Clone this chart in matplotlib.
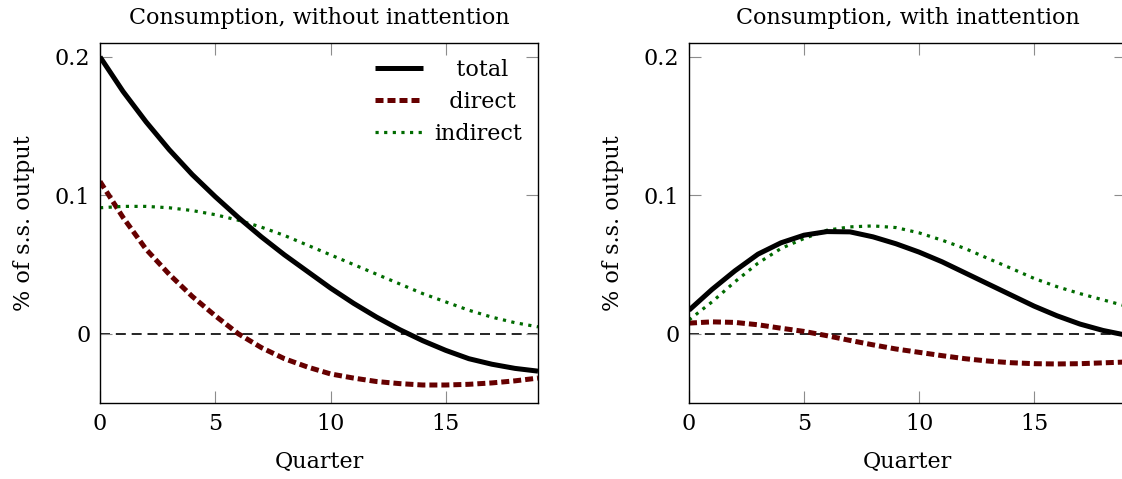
import matplotlib
matplotlib.use("Agg")
import matplotlib.pyplot as plt

plt.rcParams['font.family'] = ['DejaVu Serif']
plt.rcParams['mathtext.fontset'] = 'dejavuserif'

quarters = list(range(20))

# Without inattention
total_no = [0.200, 0.175, 0.153, 0.133, 0.115, 0.099, 0.084, 0.070, 0.057, 0.045,
            0.033, 0.022, 0.012, 0.003, -0.005, -0.012, -0.018, -0.022, -0.025, -0.027]
direct_no = [0.110, 0.084, 0.061, 0.043, 0.027, 0.013, 0.000, -0.010, -0.018, -0.024,
             -0.029, -0.032, -0.0345, -0.036, -0.037, -0.037, -0.0365, -0.0355, -0.034, -0.032]
indirect_no = [0.091, 0.092, 0.092, 0.091, 0.089, 0.086, 0.082, 0.077, 0.071, 0.064,
               0.057, 0.050, 0.043, 0.036, 0.029, 0.023, 0.017, 0.012, 0.008, 0.005]

# With inattention
total_in = [0.017, 0.032, 0.0455, 0.0575, 0.0657, 0.0712, 0.0738, 0.0736, 0.070, 0.065,
            0.059, 0.052, 0.044, 0.036, 0.028, 0.020, 0.013, 0.007, 0.0024, -0.001]
direct_in = [0.0077, 0.0086, 0.0082, 0.0065, 0.004, 0.0017, -0.0014, -0.0048, -0.008, -0.011,
             -0.0134, -0.0158, -0.018, -0.0197, -0.0209, -0.0216, -0.0218, -0.0216, -0.021, -0.0204]
indirect_in = [0.010, 0.023, 0.0376, 0.051, 0.0616, 0.0688, 0.0748, 0.0772, 0.0779, 0.0767,
               0.0729, 0.0676, 0.0616, 0.0544, 0.0473, 0.040, 0.034, 0.029, 0.0245, 0.020]

titles = ["Consumption, without inattention", "Consumption, with inattention"]
xticks = [0, 5, 10, 15]
yticks = [0, 0.1, 0.2]
yticklabels = ["0", "0.1", "0.2"]
labels = ["total", "direct", "indirect"]

W, H = 1122, 479
fig = plt.figure(figsize=(W / 100, H / 100), dpi=100)

def add_axes(left_px, right_px, top_px, bottom_px):
    return fig.add_axes([left_px / W, 1 - bottom_px / H,
                         (right_px - left_px) / W, (bottom_px - top_px) / H])

ax1 = add_axes(100, 538, 43, 403)
ax2 = add_axes(689, 1126, 43, 403)

red = '#660000'
green = '#006b00'

fs = 16
handles = None
for ax, tot, dr, ind, title in [(ax1, total_no, direct_no, indirect_no, titles[0]),
                                 (ax2, total_in, direct_in, indirect_in, titles[1])]:
    ax.axhline(0, color='black', lw=1.2, ls=(0, (6, 3.5)), zorder=1)
    h1, = ax.plot(quarters, tot, color='black', lw=3.6, solid_capstyle='butt', zorder=3)
    h2, = ax.plot(quarters, dr, color=red, lw=3.6, ls=(0, (1.6, 0.8)), zorder=2)
    h3, = ax.plot(quarters, ind, color=green, lw=2.3, ls=(0, (1, 1.7)), zorder=2)
    if handles is None:
        handles = [h1, h2, h3]
    ax.set_xlim(0, 19)
    ax.set_ylim(-0.05, 0.21)
    ax.set_xticks(xticks)
    ax.set_xticklabels([str(t) for t in xticks], fontsize=fs)
    ax.set_yticks(yticks)
    ax.set_yticklabels(yticklabels, fontsize=fs)
    ax.tick_params(direction='in', length=8.5, width=0.8, color='0.55',
                   top=True, right=True, pad=7)
    ax.set_title(title, fontsize=fs, pad=14)
    ax.set_xlabel("Quarter", fontsize=fs, labelpad=12)
    ax.set_ylabel("% of s.s. output", fontsize=fs, labelpad=14)
    for sp in ax.spines.values():
        sp.set_linewidth(1.0)

pads = ["   ", "  ", ""]
leg = ax1.legend(handles, [p + l for p, l in zip(pads, labels)], loc='upper right',
                 frameon=False, fontsize=fs, handlelength=2.2,
                 handletextpad=0.5, labelspacing=0.45, borderaxespad=0.5,
                 borderpad=0.2)

fig.savefig("out.png", dpi=100)
